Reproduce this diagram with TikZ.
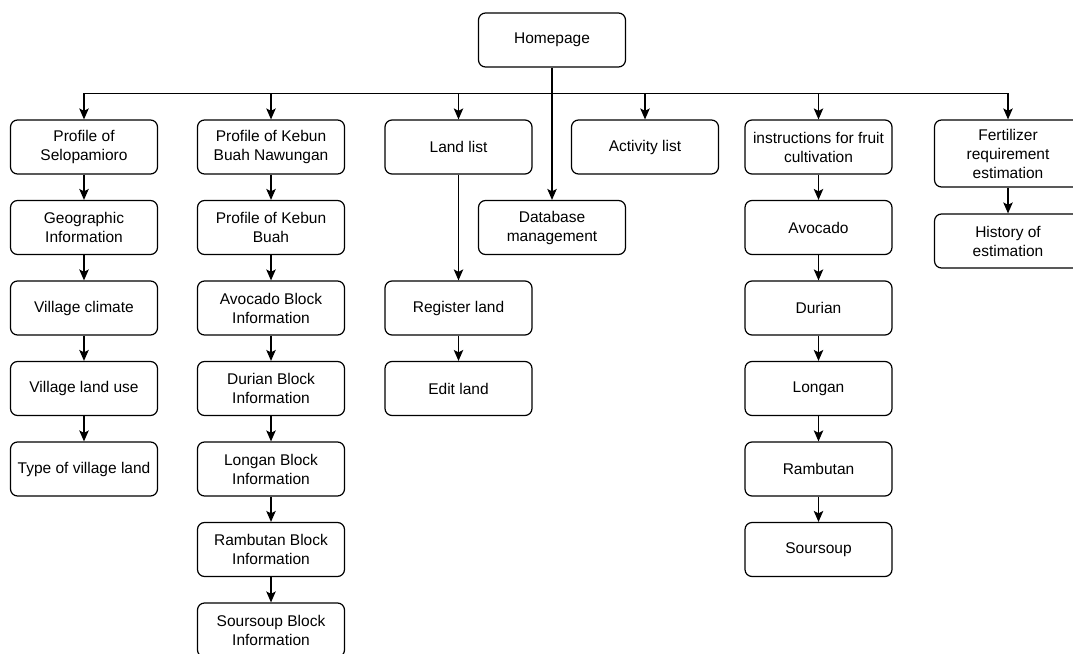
\documentclass[tikz,border=0pt]{standalone}
\usepackage{fontspec}
\setmainfont{Liberation Sans}
\usetikzlibrary{arrows.meta}
\begin{document}
\begin{tikzpicture}[x=1pt,y=-1pt,
	box/.style={draw, rounded corners=7pt, line width=1.2pt, minimum width=147pt, minimum height=54pt, inner sep=0pt, align=center, font=\fontsize{15.5}{19}\selectfont},
	arr/.style={-{Stealth[length=11pt,width=9.5pt,inset=2.5pt]}, line width=1.2pt}]
		\useasboundingbox (0,0) rectangle (1073,653);
		
		%top
		\node[box] (home) at (552,40){Homepage};
		
		%first row
		\node[box] (selo) at (84,147){Profile of\\Selopamioro};
		\node[box] (kebun) at (271,147){Profile of Kebun\\Buah Nawungan};
		\node[box] (land) at (458.5,147){Land list};
		\node[box] (act) at (645,147){Activity list};
		\node[box] (instr) at (818.5,147){instructions for fruit\\cultivation};
		\node[box, minimum height=67pt] (fert) at (1008,153.5){Fertilizer\\requirement\\estimation};
		\node[box] (db) at (552,227.5){Database\\management};
		
		%village column
		\node[box] (geo) at (84,227.5){Geographic\\Information};
		\node[box] (climate) at (84,308){Village climate};
		\node[box] (landuse) at (84,388.5){Village land use};
		\node[box] (landtype) at (84,469){Type of village land};
		
		%garden column
		\node[box] (buah) at (271,227.5){Profile of Kebun\\Buah};
		\node[box] (avoblock) at (271,308){Avocado Block\\Information};
		\node[box] (durblock) at (271,388.5){Durian Block\\Information};
		\node[box] (lonblock) at (271,469){Longan Block\\Information};
		\node[box] (rambblock) at (271,549.5){Rambutan Block\\Information};
		\node[box] (sourblock) at (271,630){Soursoup Block\\Information};
		
		%land column
		\node[box] (reg) at (458.5,308){Register land};
		\node[box] (edit) at (458.5,388.5){Edit land};
		
		%fruit column
		\node[box] (avo) at (818.5,227.5){Avocado};
		\node[box] (dur) at (818.5,308){Durian};
		\node[box] (lon) at (818.5,388.5){Longan};
		\node[box] (ramb) at (818.5,469){Rambutan};
		\node[box] (sour) at (818.5,549.5){Soursoup};
		
		%estimation
		\node[box] (hist) at (1008,241){History of\\estimation};
		
		%bus line
		\coordinate (bus) at (0,93.3);
		\draw[line width=1.2pt] (selo.north |- bus) -- (fert.north |- bus);
		\foreach \n in {selo, kebun, land, act, instr, fert}{
			\draw[arr] (\n.north |- bus) -- (\n.north);
		}
		\draw[arr] (home) -- (db);
		
		\foreach \a/\b in {selo/geo, geo/climate, climate/landuse, landuse/landtype, kebun/buah, buah/avoblock, avoblock/durblock, durblock/lonblock, lonblock/rambblock, rambblock/sourblock, land/reg, reg/edit, instr/avo, avo/dur, dur/lon, lon/ramb, ramb/sour, fert/hist}{
			\draw[arr] (\a) -- (\b);
		}
		\end{tikzpicture}
\end{document}
